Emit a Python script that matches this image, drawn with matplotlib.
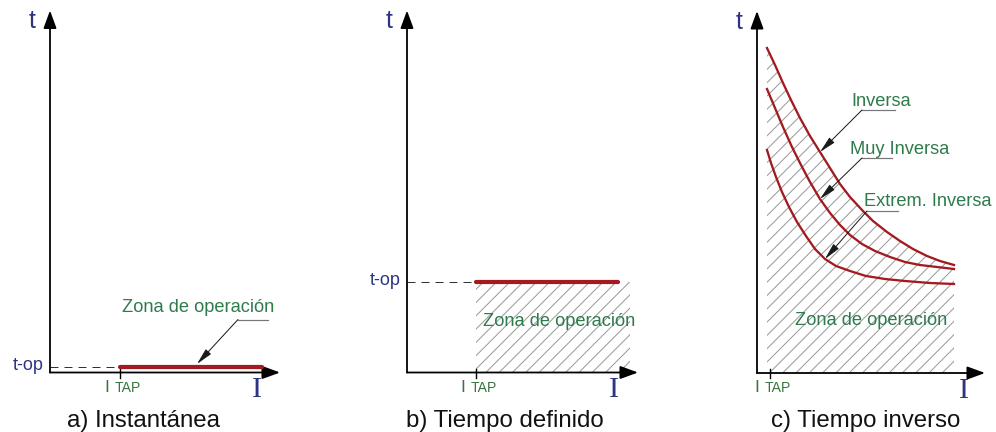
import numpy as np
import matplotlib.pyplot as plt

# ---- data (I in arbitrary current units, t in arbitrary time units) ----
# a) instantaneous
inst_itap = 7.0
inst_top = 0.6
inst_iend = 21.2
# b) definite time
def_itap = 6.9
def_top = 9.1
def_iend = 21.1
def_zone_end = 22.3
# c) inverse time curves
inv_itap = 1.3
inv_I = [1.0, 1.8, 2.6, 3.4, 4.3, 5.3, 6.3, 7.3, 8.3, 9.3, 10.5, 11.6, 13.0, 14.3, 15.6, 17.0, 18.3, 19.7]
inv_t = [32.5, 30.8, 29.0, 27.3, 25.5, 23.7, 22.1, 20.5, 18.9, 17.6, 16.3, 15.2, 14.1, 13.2, 12.4, 11.7, 11.2, 10.8]
muy_I = [1.0, 1.8, 2.6, 3.5, 4.4, 5.3, 6.3, 7.3, 8.3, 9.3, 10.5, 11.8, 13.3, 14.8, 16.3, 18.0, 19.7]
muy_t = [28.4, 26.5, 24.6, 22.6, 20.8, 19.1, 17.4, 16.0, 14.8, 13.8, 12.9, 12.2, 11.6, 11.1, 10.8, 10.6, 10.4]
ext_I = [1.0, 1.4, 1.9, 2.5, 3.2, 4.0, 4.9, 5.8, 6.8, 7.9, 9.3, 10.9, 12.8, 14.8, 17.3, 19.7]
ext_t = [22.3, 21.0, 19.6, 18.1, 16.6, 15.1, 13.7, 12.4, 11.4, 10.7, 10.2, 9.7, 9.4, 9.2, 9.0, 8.9]

captions = ['a) Instantánea', 'b) Tiempo definido', 'c) Tiempo inverso']
zone_label = 'Zona de operación'

# ---- styling ----
W, H, DPI = 996, 432, 78
UNIT = 10  # pixels per data unit


def pt(px):
    return px * 72 / DPI


NAVY = '#2d3483'
GREEN = '#2e7b4c'
TAPGREEN = '#3a7440'
RED = '#a31a20'
HATCH = '#999999'
HATCH_STEP = 1.33  # horizontal spacing of the diagonal hatch, in data units

plt.rcParams['font.family'] = ['Liberation Sans', 'DejaVu Sans']

fig = plt.figure(figsize=(W / DPI, H / DPI), dpi=DPI)
fig.patch.set_facecolor('white')

XLO, XHI, YLO, YHI = -6, 27, -7, 38


def panel(ox, oy):
    left = (ox + XLO * UNIT) / W
    bottom = (H - oy + YLO * UNIT) / H
    ax = fig.add_axes([left, bottom, (XHI - XLO) * UNIT / W, (YHI - YLO) * UNIT / H])
    ax.set_xlim(XLO, XHI)
    ax.set_ylim(YLO, YHI)
    ax.axis('off')
    ax.patch.set_alpha(0)
    return ax


def arrow(ax, start, tip, lw, hl, hw, color='black'):
    ax.annotate('', xy=tip, xytext=start,
                arrowprops=dict(arrowstyle=f'-|>,head_length={pt(hl)},head_width={pt(hw)}',
                                lw=pt(lw), color=color, shrinkA=0, shrinkB=0,
                                mutation_scale=1))


def hatch_zone(ax, xs, top):
    # region under 'top', filled with 45-degree lines clipped to it
    zone = ax.fill_between(xs, 0, top, facecolor='none', linewidth=0)
    clip = zone.get_paths()[0]
    for c in np.arange(-40, 30, HATCH_STEP):
        ln, = ax.plot([c, c + 45], [0, 45], color=HATCH, lw=pt(1.0), zorder=1)
        ln.set_clip_path(clip, ax.transData)


def frame(ax, xtip, itap, caption, cx):
    arrow(ax, (0, 0), (0, 36.2), 1.8, 15, 5.5)
    arrow(ax, (0, 0), (xtip, 0), 1.8, 15, 5.5)
    ax.plot([itap, itap], [0.4, -0.5], color='black', lw=pt(1.4))
    ax.text(-1.8, 34.4, 't', color=NAVY, fontsize=pt(25), ha='center', va='baseline')
    ax.text(20.7, -2.45, 'I', color=NAVY, fontsize=pt(30), ha='center', va='baseline',
            family='Liberation Serif')
    ax.text(itap - 1.35, -1.95, 'I', color=TAPGREEN, fontsize=pt(17.5), ha='center', va='baseline')
    ax.text(itap - 0.5, -1.95, 'TAP', color=TAPGREEN, fontsize=pt(14), ha='left', va='baseline')
    ax.text(cx, -5.4, caption, color='#111111', fontsize=pt(24), ha='center', va='baseline')


def top_level(ax, itap, top, iend):
    ax.plot([0, itap], [top, top], color='#333333', lw=pt(1), ls=(0, (8, 6)))
    ax.plot([itap, iend], [top, top], color=RED, lw=pt(4.2), solid_capstyle='round', zorder=3)
    ax.text(-0.6, top - 0.35, 't-op', color=NAVY, fontsize=pt(18), ha='right', va='baseline')


def leader(ax, end, elbow, y, tip):
    ax.plot([elbow, end], [y, y], color='#777777', lw=pt(1.2))
    arrow(ax, (elbow, y), tip, 1.0, 14, 3.0, color='#1a1a1a')


# a) instantaneous
ax = panel(50, 372.5)
frame(ax, 23.0, inst_itap, captions[0], 9.3)
top_level(ax, inst_itap, inst_top, inst_iend)
ax.text(14.85, 6.0, zone_label, color=GREEN, fontsize=pt(18.3), ha='center', va='baseline')
leader(ax, 21.8, 18.8, 5.3, (14.7, inst_top + 0.25))

# b) definite time
ax = panel(407, 372.5)
frame(ax, 23.1, def_itap, captions[1], 9.8)
hatch_zone(ax, [def_itap, def_zone_end], def_top)
top_level(ax, def_itap, def_top, def_iend)
ax.text(15.2, 4.6, zone_label, color=GREEN, fontsize=pt(18.3), ha='center', va='baseline')

# c) inverse time
ax = panel(757, 373)
frame(ax, 22.8, inv_itap, captions[2], 10.9)
hatch_zone(ax, inv_I, inv_t)
for xs, ys in [(inv_I, inv_t), (muy_I, muy_t), (ext_I, ext_t)]:
    ax.plot(xs, ys, color=RED, lw=pt(2.3), solid_joinstyle='round', zorder=3)
ax.text(12.4, 26.7, 'Inversa', color=GREEN, fontsize=pt(18.3), ha='center', va='baseline')
ax.text(14.3, 21.9, 'Muy Inversa', color=GREEN, fontsize=pt(18.3), ha='center', va='baseline')
ax.text(17.1, 16.7, 'Extrem. Inversa', color=GREEN, fontsize=pt(18.3), ha='center', va='baseline')
ax.text(11.4, 4.8, zone_label, color=GREEN, fontsize=pt(18.3), ha='center', va='baseline')
leader(ax, 13.8, 10.5, 26.3, (inv_I[6], inv_t[6]))
leader(ax, 13.5, 10.5, 21.5, (muy_I[6], muy_t[6]))
leader(ax, 14.1, 11.0, 16.2, (ext_I[8], ext_t[8]))

fig.savefig('out.png', dpi=DPI, facecolor='white')
